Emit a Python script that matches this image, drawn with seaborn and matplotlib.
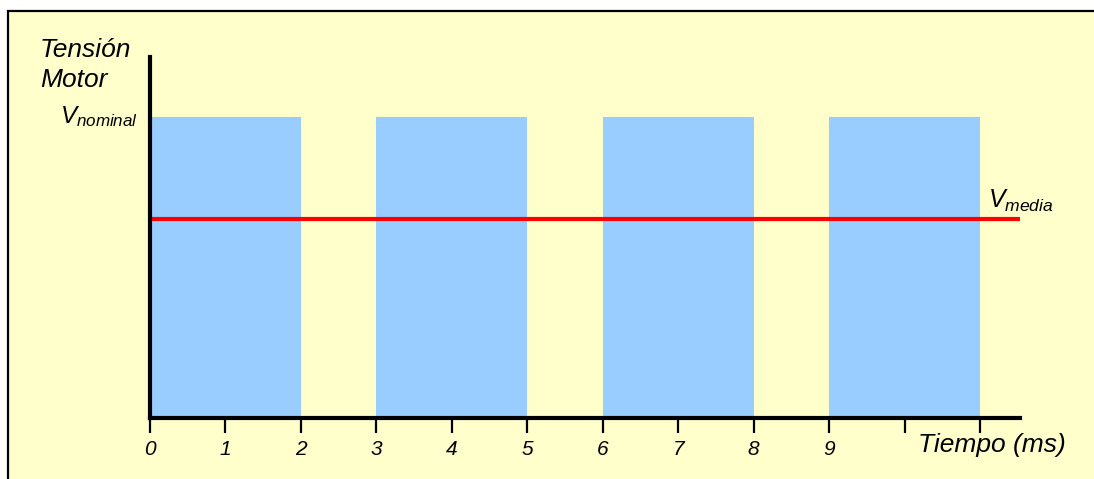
#!/usr/bin/env python3
"""PWM motor voltage: pulses at V_nominal and the resulting mean voltage."""

import matplotlib
matplotlib.use('Agg')
import matplotlib.pyplot as plt
from matplotlib.patches import Rectangle
import numpy as np
import pandas as pd
import seaborn as sns

# pulse intervals (ms) and levels
pulse_start = [0, 3, 6, 9]
pulse_end = [2, 5, 8, 11]
v_nominal = 1.0
v_media = 0.66

tick_pos = [0, 1, 2, 3, 4, 5, 6, 7, 8, 9, 10, 11]
tick_labels = ['0', '1', '2', '3', '4', '5', '6', '7', '8', '9', '', '']
x_end = 11.53

YELLOW = '#FFFFCC'
BLUE = '#99CCFF'
RED = '#FF0000'

sns.set_theme(style='white')
plt.rcParams['font.family'] = ['Liberation Sans', 'DejaVu Sans']
plt.rcParams['text.color'] = 'black'
plt.rcParams['mathtext.fontset'] = 'custom'
plt.rcParams['mathtext.it'] = 'Liberation Sans:italic'
plt.rcParams['mathtext.rm'] = 'Liberation Sans:italic'

W, H = 1094, 479
fig = plt.figure(figsize=(W / 100, H / 100), dpi=100, facecolor='white')

# yellow panel with black frame
fig.patches.append(Rectangle((8 / W, -0.01), 1.0, 1 - 11 / H + 0.01,
                             transform=fig.transFigure, facecolor=YELLOW,
                             edgecolor='black', linewidth=1.6, zorder=-5))

ax = fig.add_axes([150 / W, 1 - 418 / H, (1020 - 150) / W, (418 - 57) / H])
ax.set_facecolor('none')
ax.set_zorder(2)

# pulses drawn as a weighted histogram over the interval edges
edges = sorted(set(pulse_start + pulse_end))
centers = [(a + b) / 2 for a, b in zip(edges[:-1], edges[1:])]
levels = [v_nominal if any(s <= c <= e for s, e in zip(pulse_start, pulse_end)) else 0.0
          for c in centers]
pulses = pd.DataFrame({'t': centers, 'v': levels})
sns.histplot(data=pulses, x='t', weights='v', bins=edges, stat='count',
             color=BLUE, alpha=1, linewidth=0, ax=ax, zorder=1)

# mean voltage line
mean_df = pd.DataFrame({'t': [0, x_end], 'v': [v_media, v_media]})
sns.lineplot(data=mean_df, x='t', y='v', color=RED, linewidth=3, ax=ax, zorder=2)

ax.set_xlim(0, x_end)
ax.set_ylim(0, 1.2)
ax.set_xlabel('')
ax.set_ylabel('')
ax.set_xticks(tick_pos)
ax.set_xticklabels(tick_labels)
ax.set_yticks([])
ax.tick_params(axis='x', direction='out', length=11, width=1.6, color='black',
               pad=5, bottom=True, labelsize=15, labelcolor='black')
for lbl in ax.get_xticklabels():
    lbl.set_fontstyle('italic')
for side in ['top', 'right']:
    ax.spines[side].set_visible(False)
for side in ['left', 'bottom']:
    ax.spines[side].set_color('black')
    ax.spines[side].set_linewidth(3)
    ax.spines[side].set_zorder(3)

# labels
fig.text(40 / W, 1 - 38 / H, 'Tensión\nMotor', fontsize=19, style='italic',
         ha='left', va='top', linespacing=1.3, color='black')
fig.text(138 / W, 1 - 123 / H, r'$V_{nominal}$', fontsize=17.5,
         ha='right', va='baseline', color='black')
fig.text(988 / W, 1 - 208 / H, r'$V_{media}$', fontsize=18,
         ha='left', va='baseline', color='black')
fig.text(918 / W, 1 - 445 / H, 'Tiempo (ms)', fontsize=19, style='italic',
         ha='left', va='center', color='black')

fig.savefig('out.png', dpi=100)
